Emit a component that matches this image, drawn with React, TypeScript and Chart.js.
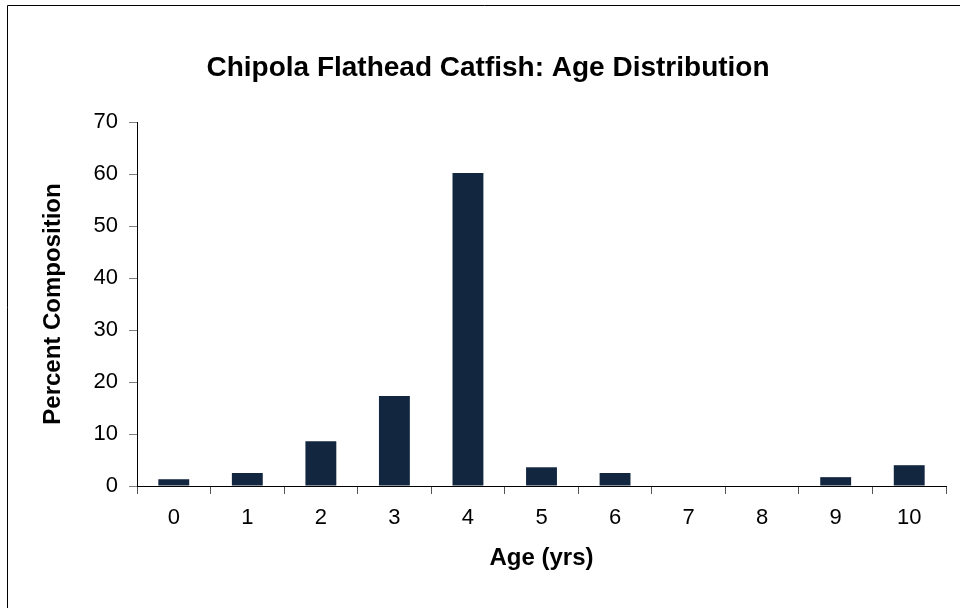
import React, { useEffect, useRef } from "react";
import { Chart, registerables } from "chart.js";

Chart.register(...registerables);

const ages = ["0", "1", "2", "3", "4", "5", "6", "7", "8", "9", "10"];
const percentComposition = [1.3, 2.5, 8.6, 17.3, 60.2, 3.6, 2.5, 0, 0, 1.7, 4.0];
const chartTitle = "Chipola Flathead Catfish: Age Distribution";
const xTitle = "Age (yrs)";
const yTitle = "Percent Composition";

const FONT = "Arial, 'Liberation Sans', sans-serif";

const framePlugin = {
  id: "frame",
  beforeDraw(chart: any) {
    const ctx = chart.ctx;
    ctx.save();
    ctx.fillStyle = "#ffffff";
    ctx.fillRect(0, 0, chart.width, chart.height);
    ctx.strokeStyle = "#000000";
    ctx.lineWidth = 1;
    ctx.beginPath();
    ctx.moveTo(7.5, chart.height + 2);
    ctx.lineTo(7.5, 5.5);
    ctx.lineTo(chart.width + 2, 5.5);
    ctx.stroke();
    ctx.restore();
  },
  afterDraw(chart: any) {
    const ctx = chart.ctx;
    ctx.save();
    ctx.fillStyle = "#000";
    ctx.font = `bold 28px ${FONT}`;
    ctx.textAlign = "center";
    ctx.textBaseline = "middle";
    ctx.fillText(chartTitle, 488, 68);
    ctx.restore();
  },
};

export default function App() {
  const ref = useRef<HTMLCanvasElement>(null);
  useEffect(() => {
    if (!ref.current) return;
    const chart = new Chart(ref.current, {
      type: "bar",
      data: {
        labels: ages,
        datasets: [
          {
            data: percentComposition,
            backgroundColor: "#132640",
            borderWidth: 0,
            categoryPercentage: 1,
            barPercentage: 0.42,
          },
        ],
      },
      plugins: [framePlugin],
      options: {
        animation: false,
        responsive: false,
        layout: { padding: { left: 16, right: 14, top: 122, bottom: 0 } },
        plugins: {
          legend: { display: false },
          tooltip: { enabled: false },
          title: { display: false },
        },
        scales: {
          x: {
            offset: true,
            grid: {
              display: true,
              offset: true,
              drawOnChartArea: false,
              drawTicks: true,
              tickLength: 8,
              color: "#555555",
            },
            border: { display: true, color: "#000000", width: 1 },
            ticks: {
              color: "#000",
              font: { family: FONT, size: 22 },
              padding: 11,
              maxRotation: 0,
            },
            title: {
              display: true,
              text: xTitle,
              color: "#000",
              font: { family: FONT, size: 24, weight: "bold" },
              padding: { top: 0, bottom: 35 },
            },
            afterFit(scale: any) {
              scale.height = 122;
            },
          },
          y: {
            min: 0,
            max: 70,
            ticks: {
              stepSize: 10,
              color: "#000",
              font: { family: FONT, size: 22 },
              padding: 11,
            },
            grid: {
              display: true,
              drawOnChartArea: false,
              drawTicks: true,
              tickLength: 8,
              color: "#808080",
            },
            border: { display: true, color: "#000000", width: 1 },
            title: {
              display: true,
              text: yTitle,
              color: "#000",
              font: { family: FONT, size: 24, weight: "bold" },
              padding: { top: 23, bottom: 0 },
            },
            afterFit(scale: any) {
              scale.width = 121;
            },
          },
        },
      },
    });
    return () => chart.destroy();
  }, []);
  return (
    <div style={{ position: "fixed", left: 0, top: 0, width: 960, height: 608, background: "#fff" }}>
      <canvas ref={ref} width={960} height={608} style={{ display: "block" }} />
    </div>
  );
}
